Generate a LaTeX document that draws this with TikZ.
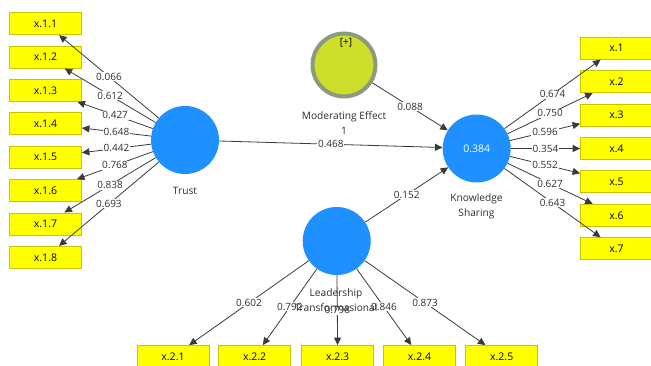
\documentclass[tikz,border=0pt]{standalone}
\usepackage{fontspec}
\setmainfont{Open Sans}
\usetikzlibrary{arrows.meta}
\definecolor{boxyellow}{HTML}{FFFF00}
\definecolor{boxborder}{HTML}{C8C400}
\definecolor{lvblue}{HTML}{1E90FF}
\definecolor{modfill}{HTML}{CDDF2A}
\definecolor{modring}{HTML}{8C9B80}
\definecolor{edgegray}{HTML}{3A3A3A}
\definecolor{txtgray}{HTML}{2E2E2E}
\begin{document}
\begin{tikzpicture}[x=1pt,y=-1pt,
  indicator/.style={draw=boxborder, fill=boxyellow, line width=0.8pt, minimum width=72pt, minimum height=22pt, inner sep=0pt, font=\fontsize{10.5}{12}\selectfont},
  latent/.style={circle, fill=lvblue, minimum size=68pt, inner sep=0pt},
  moderator/.style={circle, fill=modfill, draw=modring, line width=4pt, minimum size=63pt, inner sep=0pt},
  conn/.style={draw=edgegray, line width=0.8pt, -{Triangle[length=7.5pt,width=7pt]}},
  coef/.style={fill=white, inner sep=0.8pt, font=\fontsize{10}{11}\selectfont, text=txtgray},
  lvlabel/.style={align=center, font=\fontsize{10.2}{14.5}\selectfont, text=txtgray}]
\useasboundingbox (0,0) rectangle (651,366);

% latent variables
\node[latent] (trust) at (185,140) {};
\node[latent, text=white, font=\fontsize{10.5}{12}\selectfont] (ks) at (476.7,148.5) {0.384};
\node[latent] (lead) at (336.7,241) {};
\node[moderator] (mod) at (344,65) {};
\node[font=\fontsize{10}{11}\selectfont, text=black] (plus) at (346,43) {[+]};

% left indicators
\foreach \i [evaluate=\i as \yy using {23.7+33.37*(\i-1)}] in {1,...,8}
  \node[indicator] (x1\i) at (45.5,\yy) {x.1.\i};
% right indicators
\foreach \i [evaluate=\i as \yy using {48.3+33.4*(\i-1)}] in {1,...,7}
  \node[indicator] (y\i) at (616.5,\yy) {x.\i};
% bottom indicators
\node[indicator] (x21) at (173,356.5) {x.2.1};
\node[indicator] (x22) at (254.7,356.5) {x.2.2};
\node[indicator] (x23) at (337.7,356.5) {x.2.3};
\node[indicator] (x24) at (419.5,356.5) {x.2.4};
\node[indicator] (x25) at (501.7,356.5) {x.2.5};

% trust outer loadings
\draw[conn] (trust) -- node[coef]{0.066} (x11);
\draw[conn] (trust) -- node[coef]{0.612} (x12);
\draw[conn] (trust) -- node[coef]{0.427} (x13);
\draw[conn] (trust) -- node[coef]{0.648} (x14);
\draw[conn] (trust) -- node[coef]{0.442} (x15);
\draw[conn] (trust) -- node[coef]{0.768} (x16);
\draw[conn] (trust) -- node[coef]{0.838} (x17);
\draw[conn] (trust) -- node[coef]{0.693} (x18);

% knowledge sharing outer loadings
\draw[conn] (ks) -- node[coef]{0.674} (y1);
\draw[conn] (ks) -- node[coef]{0.750} (y2);
\draw[conn] (ks) -- node[coef]{0.596} (y3);
\draw[conn] (ks) -- node[coef]{0.354} (y4);
\draw[conn] (ks) -- node[coef]{0.552} (y5);
\draw[conn] (ks) -- node[coef]{0.627} (y6);
\draw[conn] (ks) -- node[coef]{0.643} (y7);

% leadership outer loadings
\draw[conn] (lead) -- node[coef]{0.602} (x21);
\draw[conn] (lead) -- node[coef]{0.792} (x22);
\draw[conn] (lead) -- node[coef]{0.798} (x23);
\draw[conn] (lead) -- node[coef]{0.846} (x24);
\draw[conn] (lead) -- node[coef]{0.873} (x25);

% structural paths
\draw[conn] (trust) -- node[coef]{0.468} (ks);
\draw[conn] (mod) -- node[coef]{0.088} (ks);
\draw[conn] (lead) -- node[coef]{0.152} (ks);

% latent labels
\node[lvlabel] (trustlbl) at (185,191) {Trust};
\node[lvlabel] (kslbl) at (476.5,206.5) {Knowledge\\Sharing};
\node[lvlabel] (leadlbl) at (336,300) {Leadership\\Transformasional};
\node[lvlabel] (modlbl) at (344,123) {Moderating Effect\\1};
\end{tikzpicture}
\end{document}
